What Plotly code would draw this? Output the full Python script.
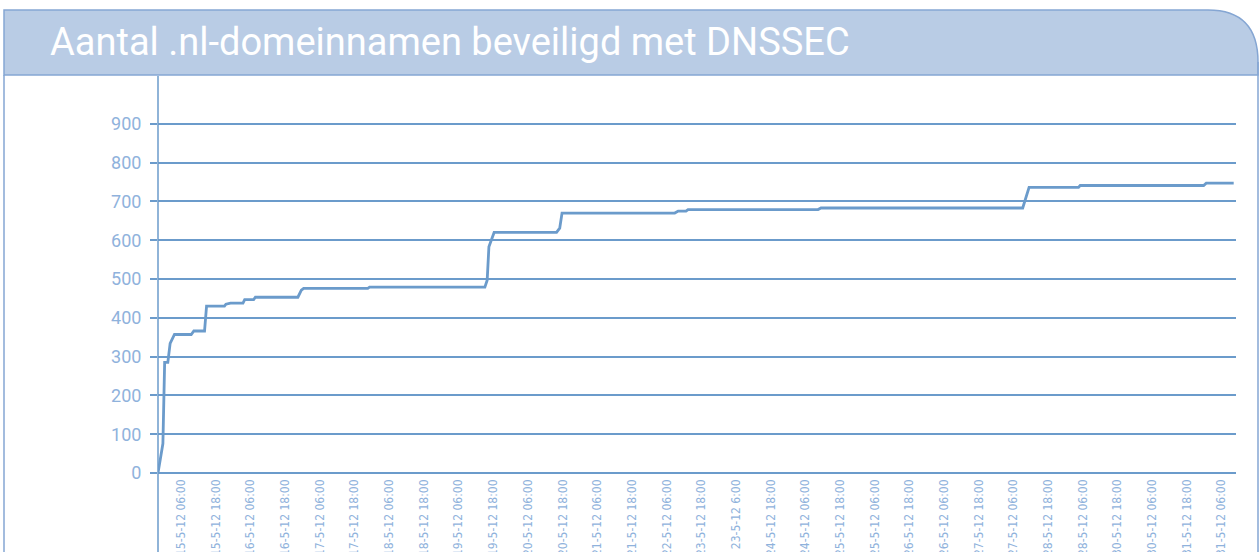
import plotly.graph_objects as go

# ---- data ----
# x: hours since 14-5-12 22:00, y: number of .nl domains signed with DNSSEC
hours = [0, 1.7, 2.3, 3.4, 4.2, 5.7, 11.5, 12.4, 16.1, 16.8, 23.0, 23.5, 25.1, 29.4, 30.0,
         33.1, 33.7, 48.4, 49.6, 50.4, 72.6, 73.2, 113.1, 113.9, 114.5, 116.3, 137.9, 139.0,
         139.8, 178.8, 180.0, 182.7, 183.4, 228.4, 229.4, 299.2, 301.4, 318.5, 319.1, 361.8,
         362.7, 372.2]
domains = [0, 76, 285, 285, 334, 357, 357, 366, 366, 430, 430, 435, 438, 438, 447,
           447, 453, 453, 471, 476, 476, 479, 479, 497, 583, 620, 620, 631,
           670, 670, 675, 675, 679, 679, 683, 683, 736, 736, 741, 741,
           747, 747]

tick_labels = ["15-5-12 06:00", "15-5-12 18:00", "16-5-12 06:00", "16-5-12 18:00",
               "17-5-12 06:00", "17-5-12 18:00", "18-5-12 06:00", "18-5-12 18:00",
               "19-5-12 06:00", "19-5-12 18:00", "20-5-12 06:00", "20-5-12 18:00",
               "21-5-12 06:00", "21-5-12 18:00", "22-5-12 06:00", "23-5-12 18:00",
               "23-5-12 6:00", "24-5-12 18:00", "24-5-12 06:00", "25-5-12 18:00",
               "25-5-12 06:00", "26-5-12 18:00", "26-5-12 06:00", "27-5-12 18:00",
               "27-5-12 06:00", "28-5-12 18:00", "28-5-12 06:00", "30-5-12 18:00",
               "30-5-12 06:00", "31-5-12 18:00", "31-5-12 06:00"]
tick_hours = [8 + 12 * i for i in range(len(tick_labels))]
y_ticks = [0, 100, 200, 300, 400, 500, 600, 700, 800, 900]

title_text = "Aantal .nl-domeinnamen beveiligd met DNSSEC"

# ---- layout geometry ----
W, H = 1260, 552
L, R, T, B = 158, 24, 85, 79
PW, PH = W - L - R, H - T - B

def px(x):
    return (x - L) / PW

def py(y):
    return (H - B - y) / PH

LINE_BLUE = "#6b9bcb"
LABEL_BLUE = "#8fb2dc"
BORDER = "#85a6d3"
HEADER_FILL = "#b9cce5"

fig = go.Figure()
fig.add_trace(go.Scatter(x=hours, y=domains, mode="lines",
                         line=dict(color=LINE_BLUE, width=2.8),
                         hoverinfo="x+y", showlegend=False))

# header band with rounded top-right corner
hdr = (f"M {px(4)},{py(75)} L {px(4)},{py(10)} L {px(1208)},{py(10)} "
       f"Q {px(1258)},{py(10)} {px(1258)},{py(62)} L {px(1258)},{py(75)} Z")
shapes = [
    dict(type="path", xref="paper", yref="paper", path=hdr,
         fillcolor=HEADER_FILL, line=dict(color=BORDER, width=1.5), layer="below"),
    dict(type="line", xref="paper", yref="paper", x0=px(4), x1=px(4), y0=py(75), y1=py(560),
         line=dict(color=BORDER, width=1.5)),
    dict(type="line", xref="paper", yref="paper", x0=px(1258), x1=px(1258), y0=py(62), y1=py(560),
         line=dict(color=BORDER, width=1.5)),
    dict(type="line", xref="paper", yref="paper", x0=0, x1=0, y0=py(76), y1=py(560),
         line=dict(color=LINE_BLUE, width=1.5)),
]

fig.update_layout(
    width=W, height=H,
    margin=dict(l=L, r=R, t=T, b=B, autoexpand=False),
    paper_bgcolor="white", plot_bgcolor="white",
    shapes=shapes,
    annotations=[dict(text=title_text, xref="paper", yref="paper",
                      x=px(48), y=py(42), xanchor="left", yanchor="middle",
                      showarrow=False,
                      font=dict(family="Roboto, Noto Sans, sans-serif", size=38, color="white"))],
    xaxis=dict(range=[0, 373], tickmode="array", tickvals=tick_hours, ticktext=tick_labels,
               tickangle=-90, showgrid=False, zeroline=False, showline=False, ticks="",
               ticklabelstandoff=3,
               tickfont=dict(family="Liberation Sans Narrow, DejaVu Sans Condensed, sans-serif",
                             size=12, color=LABEL_BLUE),
               automargin=False, fixedrange=True),
    yaxis=dict(range=[0, 1000], tickmode="array", tickvals=y_ticks,
               showgrid=True, gridcolor=LINE_BLUE, gridwidth=2,
               zeroline=True, zerolinecolor=LINE_BLUE, zerolinewidth=2,
               showline=False, ticks="outside", ticklen=7, tickwidth=2, tickcolor=LINE_BLUE,
               ticklabelstandoff=5,
               tickfont=dict(family="Roboto, Noto Sans, sans-serif", size=18, color=LABEL_BLUE),
               automargin=False, fixedrange=True),
)

fig.write_html("out.html", config={"displayModeBar": False},
               post_script="document.body.style.margin='0';document.body.style.overflow='hidden';")
